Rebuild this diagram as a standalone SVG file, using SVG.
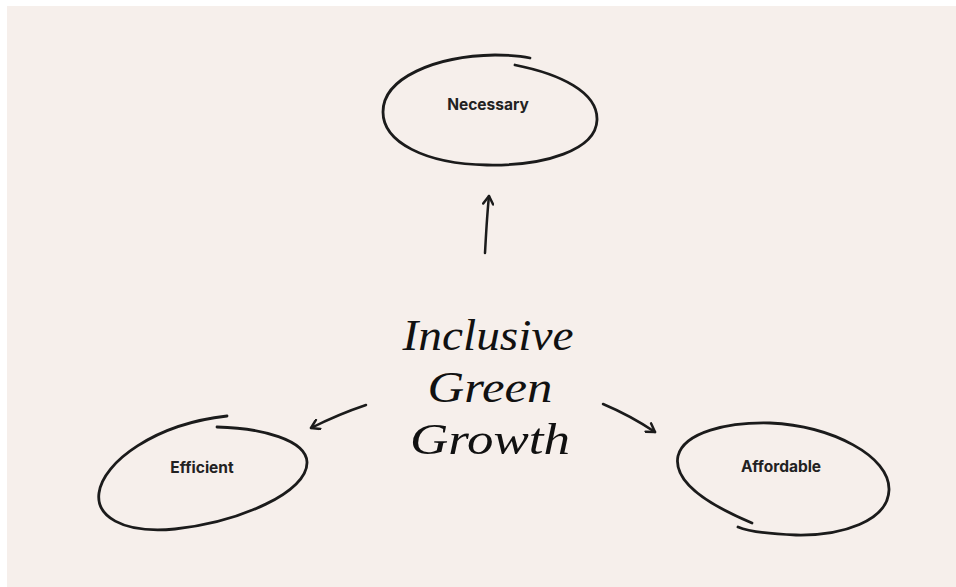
<svg xmlns="http://www.w3.org/2000/svg" width="956" height="587" viewBox="0 0 956 587">
<defs>
<style>
.loop{fill:none;stroke:#1b1b1b;stroke-width:2.8;stroke-linecap:round;stroke-linejoin:round}
.lbl{font-family:Inter,"Liberation Sans",sans-serif;font-weight:700;font-size:15.5px;fill:#222;text-anchor:middle}
.conn{fill:none;stroke:#1b1b1b;stroke-width:2.5;stroke-linecap:round}
.title{font-family:"Liberation Serif","DejaVu Serif",serif;font-style:italic;font-size:45px;fill:#111;text-anchor:middle}
</style>
<marker id="ah" viewBox="0 0 12 12" refX="10" refY="6" markerWidth="12" markerHeight="12" markerUnits="userSpaceOnUse" orient="auto">
<path d="M2,1 L10,6 L2,11" fill="none" stroke="#1b1b1b" stroke-width="2.5" stroke-linecap="round" stroke-linejoin="round"/>
</marker>
</defs>
<rect x="0" y="0" width="956" height="587" fill="#ffffff"/>
<rect x="7" y="6" width="949" height="581" fill="#f6efeb"/>
<g id="necessary">
<path class="loop" d="M515,65 C560,74 598,92 597,120 C596,150 545,166 487,165 C425,164 383,142 383,112 C383,78 435,56 495,55 C510,55 522,56 530,58"/>
<text class="lbl" x="488" y="110">Necessary</text>
</g>
<g id="efficient">
<path class="loop" d="M217,427 C262,428 306,440 307,462 C308,492 240,522 175,529 C120,534 96,515 99,493 C103,462 155,424 227,416"/>
<text class="lbl" x="202" y="473">Efficient</text>
</g>
<g id="affordable">
<path class="loop" d="M752,523 C702,502 673,480 678,456 C684,432 728,422 770,423 C832,426 890,456 889,490 C888,521 842,536 796,535 C770,534 750,532 738,527"/>
<text class="lbl" x="781" y="472">Affordable</text>
</g>
<g id="center">
<text class="title" x="488" y="350" textLength="171" lengthAdjust="spacingAndGlyphs">Inclusive</text>
<text class="title" x="490" y="402" textLength="125" lengthAdjust="spacingAndGlyphs">Green</text>
<text class="title" x="490" y="454" textLength="160" lengthAdjust="spacingAndGlyphs">Growth</text>
</g>
<g id="connectors">
<path class="conn" d="M485,253 C486,235 487,215 489,196" marker-end="url(#ah)"/>
<path class="conn" d="M366,405 C345,412 327,420 311,428" marker-end="url(#ah)"/>
<path class="conn" d="M603,404 C622,412 640,422 655,432" marker-end="url(#ah)"/>
</g>
</svg>
